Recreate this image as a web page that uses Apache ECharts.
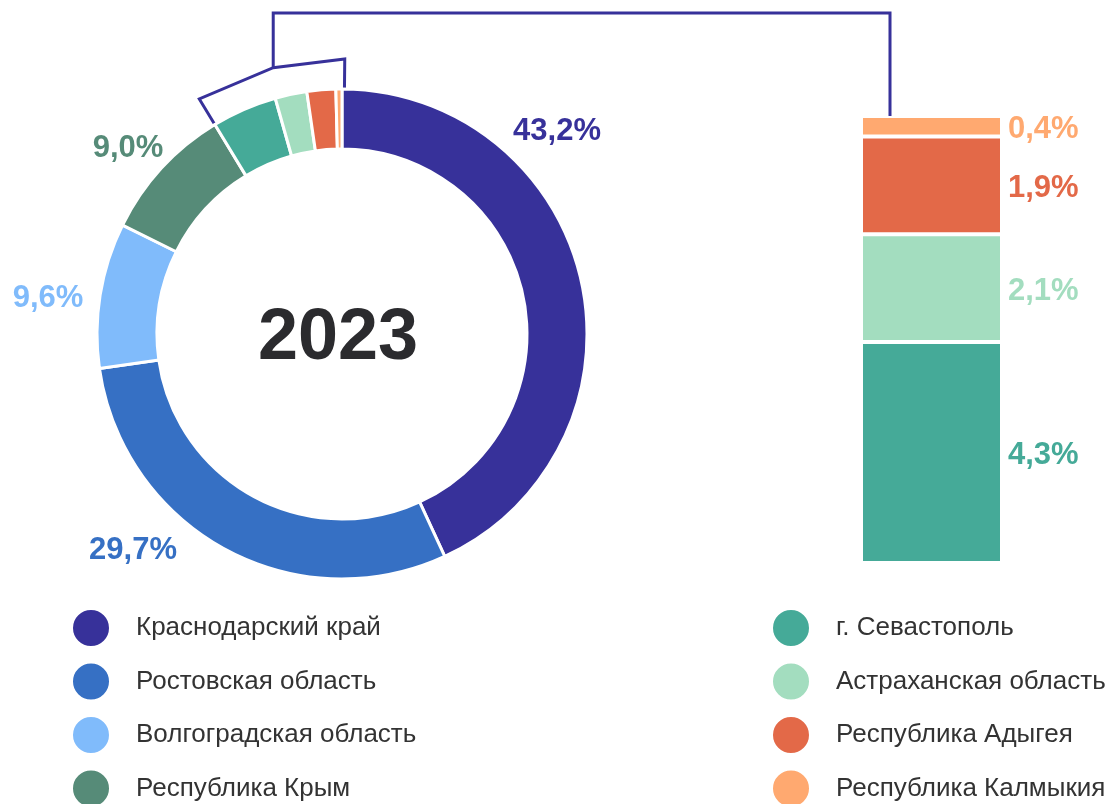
<!DOCTYPE html>
<html>
<head>
<meta charset="utf-8">
<script src="https://cdn.jsdelivr.net/npm/echarts@6/dist/echarts.min.js"></script>
<style>
  html, body { margin: 0; padding: 0; background: #fff; }
  #chart { width: 1118px; height: 804px; }
</style>
</head>
<body>
<div id="chart"></div>
<script>
var regions = ['Краснодарский край', 'Ростовская область', 'Волгоградская область', 'Республика Крым',
               'г. Севастополь', 'Астраханская область', 'Республика Адыгея', 'Республика Калмыкия'];
var shares = [43.2, 29.7, 9.6, 9.0, 4.3, 2.1, 1.9, 0.4];
var colors = ['#37319a', '#3670c4', '#80bbfb', '#568b78', '#45aa98', '#a3ddbf', '#e36948', '#ffa970'];
var year = '2023';
var bigCount = 4; // первые 4 на кольце с подписью, остальные - в столбике
// положение подписей у кольца
var pieLabelPos = [[557, 131], [133, 550], [48, 298], [128, 148]];

var FONT = 'Arial, "Liberation Sans", sans-serif';
var cx = 342, cy = 334, rIn = 185, rOut = 245;

function fmt(v) {
    return v.toFixed(1).replace('.', ',') + '%';
}

var pieData = [];
for (var i = 0; i < regions.length; i++) {
    pieData.push({
        name: regions[i],
        value: shares[i],
        itemStyle: { color: colors[i] },
        label: { show: i < bigCount, color: colors[i] }
    });
}

// столбик справа: снизу вверх Севастополь ... Калмыкия
var barSeries = [];
var smallTotal = 0;
for (var j = bigCount; j < regions.length; j++) {
    smallTotal += shares[j];
    barSeries.push({
        type: 'bar',
        name: regions[j],
        stack: 'small',
        barWidth: 141,
        data: [shares[j]],
        itemStyle: { color: colors[j], borderColor: '#fff', borderWidth: 2 },
        label: {
            show: true,
            position: 'right',
            distance: 6,
            offset: [0, 3],
            formatter: function (p) { return fmt(p.value); },
            color: colors[j],
            fontSize: 31,
            fontWeight: 'bold',
            fontFamily: FONT
        }
    });
}

// скобка вокруг малых секторов
var bigSum = 0, total = 0;
for (var k = 0; k < shares.length; k++) {
    total += shares[k];
    if (k < bigCount) bigSum += shares[k];
}
var a0 = (bigSum / total) * 2 * Math.PI;   // по часовой от 12 часов
var a1 = 2 * Math.PI + 0.01;
var aMid = (a0 + a1) / 2 + 0.015;
var rB = 275;
function pt(a, r) {
    return [cx + r * Math.sin(a), cy - r * Math.cos(a)];
}
var pMid = pt(aMid, rB);
var bracket = [pt(a0, rOut - 1), pt(a0, rB), pMid, pt(a1, rB), pt(a1, rOut - 1)];
var barLeft = 861, barTop = 116;
var topY = 13;
var link = [pMid, [pMid[0], topY], [barLeft + 29, topY], [barLeft + 29, barTop + 1]];

var legendCommon = {
    orient: 'vertical',
    icon: 'circle',
    itemWidth: 38,
    itemHeight: 38,
    itemGap: 13.5,
    height: 220,
    selectedMode: false,
    textStyle: { fontSize: 26, color: '#333', fontFamily: FONT, padding: [0, 0, 0, 21] }
};

var myChart = echarts.init(document.getElementById('chart'));
var option = {
    animation: false,
    title: {
        text: year,
        left: cx - 9,
        top: cy,
        textAlign: 'center',
        textVerticalAlign: 'middle',
        textStyle: { fontSize: 72, fontWeight: 'bold', color: '#2b2b2e', fontFamily: FONT }
    },
    legend: [
        Object.assign({}, legendCommon, { left: 66, top: 603, data: regions.slice(0, bigCount) }),
        Object.assign({}, legendCommon, { left: 766, top: 603, data: regions.slice(bigCount) })
    ],
    grid: { left: barLeft, width: 141, top: barTop, bottom: 241 },
    xAxis: { type: 'category', data: [year], show: false },
    yAxis: { type: 'value', min: 0, max: smallTotal, show: false },
    series: [
        {
            type: 'pie',
            center: [cx, cy],
            radius: [rIn, rOut],
            startAngle: 90,
            clockwise: true,
            avoidLabelOverlap: false,
            itemStyle: { borderColor: '#fff', borderWidth: 3 },
            label: {
                position: 'outside',
                formatter: function (p) { return fmt(p.value); },
                fontSize: 31,
                fontWeight: 'bold',
                fontFamily: FONT
            },
            labelLine: { show: false },
            labelLayout: function (p) {
                var pos = pieLabelPos[p.dataIndex];
                if (!pos) return {};
                return { x: pos[0], y: pos[1], align: 'center', verticalAlign: 'middle' };
            },
            emphasis: { disabled: true },
            data: pieData
        }
    ].concat(barSeries),
    graphic: [
        { type: 'polyline', shape: { points: bracket }, style: { stroke: '#37319a', lineWidth: 3, fill: null } },
        { type: 'polyline', shape: { points: link }, style: { stroke: '#37319a', lineWidth: 3, fill: null } }
    ]
};

if (option && typeof option === "object") {
    myChart.setOption(option, true);
}
</script>
</body>
</html>
